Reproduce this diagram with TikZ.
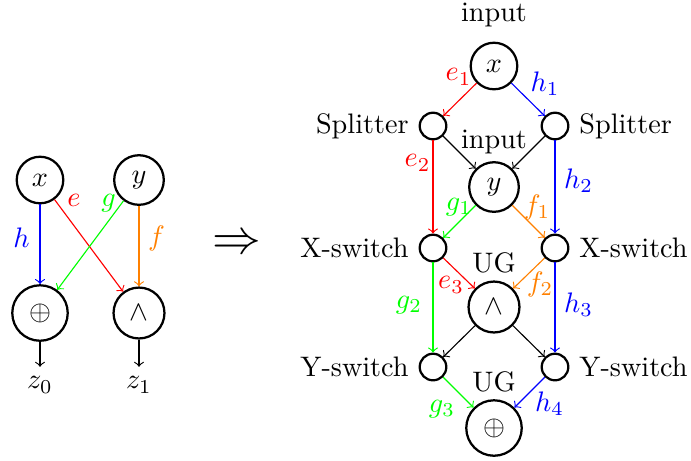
\documentclass[tikz,border=0pt]{standalone}
\begin{document}
\begin{tikzpicture}[x=0.3546pt,y=-0.3546pt,
  gate/.style={circle,draw,thick},
  lbl/.style={inner sep=0pt},
  >=to]
\useasboundingbox (0,0) rectangle (691,460);
% ---------- left diagram ----------
\node[gate] (lx) at (40,180) {$x$};
\node[gate] (ly) at (139,180) {$y$};
\node[gate] (lo) at (40,313) {$\oplus$};
\node[gate] (lw) at (139,313) {$\wedge$};
\node (z0) at (40,385) {$z_0$};
\node (z1) at (139,385) {$z_1$};
\draw[->,blue] (lx) -- (lo) node[lbl,blue] at (21.5,238) {$h$};
\draw[->,red] (lx) -- (lw) node[lbl,red] at (74,200) {$e$};
\draw[->,green] (ly) -- (lo) node[lbl,green] at (108.5,203) {$g$};
\draw[->,orange] (ly) -- (lw) node[lbl,orange] at (156.5,238) {$f$};
\draw[->] (lo) -- (z0);
\draw[->] (lw) -- (z1);
% implication
\node (imp) at (237,245) {\LARGE$\Rightarrow$};
% ---------- right diagram ----------
\node[gate,label={[label distance=1.5pt]above:input}] (x) at (494,66) {$x$};
\node[gate,label=left:Splitter] (sl) at (433,126) {};
\node[gate,label=right:Splitter] (sr) at (555,126) {};
\node[gate,label={[label distance=-1pt]above:input}] (y) at (494,187) {$y$};
\node[gate,label=left:X-switch] (xl) at (433,248) {};
\node[gate,label=right:X-switch] (xr) at (555,248) {};
\node[gate,label={[label distance=-1pt]above:UG}] (w) at (494,307) {$\wedge$};
\node[gate,label=left:Y-switch] (yl) at (433,367) {};
\node[gate,label=right:Y-switch] (yr) at (555,367) {};
\node[gate,label={[label distance=-1pt]above:UG}] (o) at (494,428) {$\oplus$};
\draw[->,red] (x) -- (sl) node[lbl] at (458.5,77) {$e_1$};
\draw[->,blue] (x) -- (sr) node[lbl] at (545,84) {$h_1$};
\draw[->] (sl) -- (y);
\draw[->] (sr) -- (y);
\draw[->,red] (sl) -- (xl) node[lbl] at (417.5,163) {$e_2$};
\draw[->,blue] (sr) -- (xr) node[lbl] at (578.5,181) {$h_2$};
\draw[->,green] (y) -- (xl) node[lbl] at (459,207) {$g_1$};
\draw[->,orange] (y) -- (xr) node[lbl] at (537,207) {$f_1$};
\draw[->,red] (xl) -- (w) node[lbl] at (451,285) {$e_3$};
\draw[->,orange] (xr) -- (w) node[lbl] at (540,284) {$f_2$};
\draw[->,green] (xl) -- (yl) node[lbl] at (409,305) {$g_2$};
\draw[->,blue] (xr) -- (yr) node[lbl] at (578.5,305) {$h_3$};
\draw[->] (w) -- (yl);
\draw[->] (w) -- (yr);
\draw[->,green] (yl) -- (o) node[lbl] at (442,409) {$g_3$};
\draw[->,blue] (yr) -- (o) node[lbl] at (549.5,404) {$h_4$};
\end{tikzpicture}
\end{document}
